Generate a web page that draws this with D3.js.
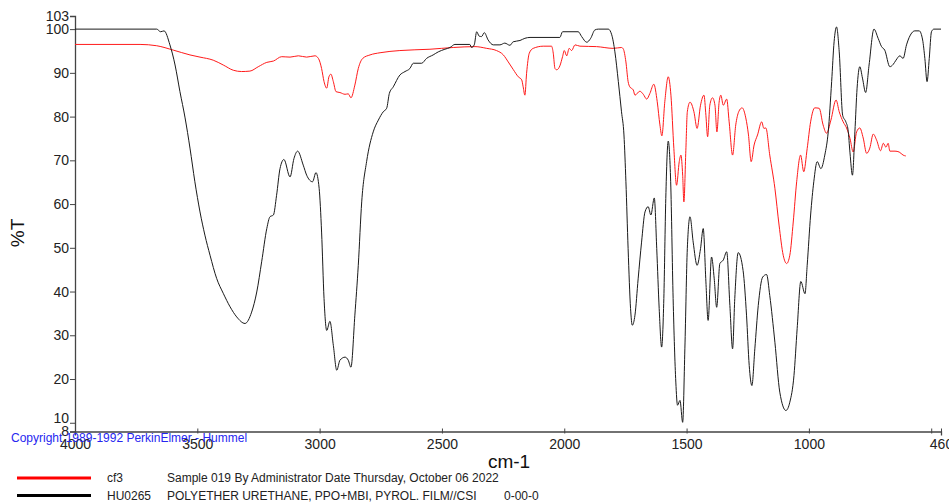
<!DOCTYPE html>
<html>
<head>
<meta charset="utf-8">
<script src="https://cdn.jsdelivr.net/npm/d3@7"></script>
<style>
  body { margin: 0; background: #fff; }
  svg { display: block; font-family: Arial, "Liberation Sans", sans-serif; }
</style>
</head>
<body>
<div id="chart"></div>
<script>
// wavenumber (cm-1), %T
const hu0265 = [[4000,100],[3666,100],[3650,99.4],[3636,99.6],[3612,96.4],[3591,91.8],[3571,85.7],[3550,79.7],[3530,72.8],[3510,65.1],[3489,58.2],[3469,52.9],[3448,48.3],[3421,43.0],[3394,39.6],[3366,36.5],[3339,34.2],[3305,32.7],[3278,35.3],[3257,39.9],[3237,46.8],[3216,54.4],[3203,57.1],[3189,57.5],[3176,62.0],[3162,68.1],[3146,70.2],[3121,66.2],[3105,70.4],[3090,72.1],[3067,68.9],[3053,66.6],[3029,65.1],[3015,67.2],[3002,63.6],[2992,53.6],[2982,38.4],[2971,31.1],[2958,33.2],[2944,27.7],[2930,22.0],[2917,24.3],[2896,25.0],[2883,24.3],[2872,22.7],[2856,34.6],[2842,46.0],[2828,60.5],[2808,69.7],[2781,76.5],[2760,79.2],[2740,81.1],[2726,81.9],[2715,85.3],[2699,86.8],[2672,89.5],[2651,90.3],[2631,91.0],[2617,92.2],[2583,92.2],[2563,93.3],[2536,94.1],[2515,94.8],[2488,95.4],[2467,95.8],[2447,96.5],[2386,96.5],[2379,95.8],[2368,96.4],[2358,99.4],[2348,98.4],[2338,98.3],[2327,99.2],[2311,97.5],[2290,96.4],[2263,96.4],[2243,96.8],[2222,96.3],[2209,97.1],[2181,97.4],[2161,97.9],[2140,98.1],[2018,98.1],[2007,99.4],[1943,99.4],[1929,98.3],[1908,97.0],[1892,97.9],[1875,99.8],[1861,100],[1820,100],[1806,98.7],[1793,94.8],[1779,88.0],[1766,81.1],[1756,75.8],[1748,65.1],[1739,49.8],[1729,36.1],[1722,32.3],[1711,34.6],[1698,42.9],[1684,51.3],[1670,58.2],[1657,59.4],[1646,57.5],[1632,61.4],[1622,49.8],[1612,36.1],[1602,27.3],[1593,38.4],[1585,61.3],[1575,74.4],[1565,65.1],[1555,38.4],[1544,19.3],[1537,14.0],[1527,15.1],[1516,10.1],[1507,26.9],[1497,49.8],[1486,57.1],[1473,51.3],[1457,46.0],[1443,49.8],[1432,54.4],[1421,42.2],[1412,33.4],[1398,47.9],[1387,42.9],[1377,36.4],[1364,46.4],[1350,47.2],[1336,49.1],[1323,36.8],[1312,26.9],[1303,38.4],[1289,48.9],[1269,44.8],[1255,34.6],[1244,23.1],[1233,18.5],[1221,26.9],[1207,36.8],[1189,43.3],[1173,43.9],[1160,39.1],[1139,28.4],[1119,17.0],[1094,12.8],[1078,14.7],[1061,20.8],[1048,31.5],[1033,42.3],[1016,39.5],[1007,46.0],[993,57.5],[980,65.1],[966,69.7],[951,68.1],[935,71.2],[921,76.5],[907,88.0],[897,97.1],[887,100.5],[876,94.8],[862,80.3],[849,78.8],[840,77.0],[832,71.7],[822,66.6],[812,76.5],[803,86.5],[792,91.4],[781,88.8],[768,85.5],[754,91.8],[734,100],[717,97.9],[703,96.0],[690,95.2],[669,91.4],[656,91.9],[644,92.9],[628,93.9],[615,93.3],[601,96.4],[580,99.1],[567,99.6],[549,99.6],[535,97.5],[526,93.3],[517,88.0],[508,93.3],[499,99.4],[489,100],[460,100]];

const cf3 = [[4000,96.5],[3734,96.5],[3666,96.2],[3598,95.2],[3530,94.1],[3489,93.6],[3435,92.9],[3394,91.8],[3353,90.6],[3319,90.3],[3285,90.4],[3251,91.4],[3216,92.4],[3189,92.7],[3155,93.7],[3121,93.6],[3087,93.9],[3053,93.6],[3019,93.9],[3005,93.3],[2992,91.0],[2982,88.0],[2971,86.5],[2962,89.1],[2954,89.7],[2944,88.0],[2933,85.7],[2917,85.5],[2896,85.1],[2883,85.2],[2872,84.3],[2856,87.2],[2842,91.0],[2824,93.3],[2794,94.1],[2753,94.6],[2672,95.1],[2549,95.4],[2454,95.8],[2365,96.0],[2317,95.6],[2277,95.1],[2249,94.1],[2229,92.5],[2209,90.8],[2188,89.1],[2174,88.4],[2168,86.8],[2161,84.9],[2154,89.9],[2143,94.5],[2127,95.6],[2086,96.1],[2052,96.1],[2045,94.5],[2038,91.0],[2031,90.7],[2018,91.6],[2007,93.7],[2000,95.1],[1990,93.9],[1980,95.6],[1970,95.1],[1956,96.4],[1936,96.1],[1868,96.0],[1800,95.6],[1766,95.8],[1759,95.5],[1748,92.5],[1739,88.0],[1732,86.8],[1718,86.1],[1711,84.9],[1691,85.8],[1677,85.1],[1663,84.0],[1650,85.3],[1634,87.4],[1620,83.4],[1609,78.1],[1601,75.6],[1589,83.4],[1575,89.1],[1564,84.9],[1552,72.7],[1541,64.3],[1530,69.7],[1523,71.2],[1516,66.6],[1511,60.5],[1503,72.3],[1497,81.1],[1486,83.3],[1470,81.1],[1457,77.3],[1443,82.6],[1429,84.9],[1421,80.3],[1414,75.4],[1405,82.6],[1394,84.3],[1384,82.6],[1376,76.5],[1367,83.3],[1360,84.9],[1350,82.6],[1336,84.0],[1326,78.8],[1312,71.2],[1299,78.1],[1287,81.1],[1273,82.0],[1258,79.7],[1247,75.8],[1236,69.7],[1224,73.5],[1210,75.8],[1193,78.8],[1184,77.3],[1176,77.4],[1160,71.2],[1139,63.6],[1122,55.2],[1105,48.3],[1091,46.4],[1078,48.3],[1064,55.9],[1050,65.1],[1034,71.2],[1021,67.4],[1007,72.7],[993,78.8],[976,82.0],[958,81.9],[942,78.1],[928,76.2],[910,79.2],[889,83.8],[876,81.1],[860,78.8],[846,77.4],[832,75.0],[819,71.9],[805,76.5],[792,77.4],[778,75.1],[764,71.6],[751,72.8],[737,76.0],[723,74.6],[707,72.2],[696,73.9],[685,73.0],[676,73.9],[669,72.1],[648,72.1],[631,71.9],[615,71.2],[604,71.0]];

const xTicks = [4000, 3500, 3000, 2500, 2000, 1500, 1000, 500, 460];
const yTicks = [8, 10, 20, 30, 40, 50, 60, 70, 80, 90, 100, 103];

const legendItems = [
  { name: "cf3", desc: "Sample 019 By Administrator Date Thursday, October 06 2022", color: "#ff0000" },
  { name: "HU0265", desc: "POLYETHER URETHANE, PPO+MBI, PYROL. FILM//CSI", extra: "0-00-0", color: "#000000" }
];

const width = 949, height = 503;
const svg = d3.select("#chart").append("svg")
  .attr("width", width)
  .attr("height", height);

const x = d3.scaleLinear().domain([4000, 460]).range([75, 941]);
const y = d3.scaleLinear().domain([8, 103]).range([431.5, 16]);

const line = d3.line()
  .x(d => x(d[0]))
  .y(d => y(d[1]))
  .curve(d3.curveMonotoneX);

// axes
const xAxis = svg.append("g")
  .attr("transform", "translate(0,431.5)")
  .call(d3.axisBottom(x).tickValues(xTicks).tickSizeOuter(0).tickSize(4)
    .tickFormat(d => d === 500 ? "" : d));
xAxis.selectAll(".tick line").attr("y1", -3).attr("y2", 2);
xAxis.selectAll("text").attr("y", 8).attr("dy", "0.71em");

const yAxis = svg.append("g")
  .attr("transform", "translate(75,0)")
  .call(d3.axisLeft(y).tickValues(yTicks).tickSizeOuter(0).tickSize(5));
yAxis.selectAll("text").attr("x", -6)
  .attr("dy", d => d === 10 ? "-0.05em" : "0.32em");

svg.selectAll(".domain").attr("stroke", "#444").attr("stroke-width", 1.3);
svg.selectAll(".tick line").attr("stroke", "#444");
svg.selectAll(".tick text").attr("font-size", 14).attr("fill", "#222")
  .attr("font-family", "Arial, 'Liberation Sans', sans-serif");

// spectra
svg.append("path").datum(cf3)
  .attr("fill", "none").attr("stroke", "#ff1a1a").attr("stroke-width", 1)
  .attr("d", line);
svg.append("path").datum(hu0265)
  .attr("fill", "none").attr("stroke", "#1a1a1a").attr("stroke-width", 1)
  .attr("d", line);

// axis titles
svg.append("text")
  .attr("transform", "translate(24,233) rotate(-90)")
  .attr("text-anchor", "middle")
  .attr("font-size", 19)
  .attr("fill", "#111")
  .text("%T");

svg.append("text")
  .attr("x", 509).attr("y", 468)
  .attr("text-anchor", "middle")
  .attr("font-size", 19)
  .attr("fill", "#111")
  .text("cm-1");

// copyright
svg.append("text")
  .attr("x", 11).attr("y", 442)
  .attr("font-size", 12)
  .attr("fill", "#2626f0")
  .text("Copyright 1989-1992 PerkinElmer - Hummel");

// legend
const leg = svg.selectAll(".leg").data(legendItems).enter().append("g")
  .attr("class", "leg")
  .attr("transform", (d, i) => `translate(0,${478 + i * 17.5})`);
leg.append("line")
  .attr("x1", 17).attr("x2", 91)
  .attr("stroke", d => d.color).attr("stroke-width", 3);
leg.append("text")
  .attr("x", 107).attr("dy", "0.35em")
  .attr("font-size", 12).attr("fill", "#222")
  .text(d => d.name);
leg.append("text")
  .attr("x", 167).attr("dy", "0.35em")
  .attr("font-size", 12).attr("fill", "#222")
  .text(d => d.desc);
leg.filter(d => d.extra).append("text")
  .attr("x", 504).attr("dy", "0.35em")
  .attr("font-size", 12).attr("fill", "#222")
  .text(d => d.extra);
</script>
</body>
</html>
